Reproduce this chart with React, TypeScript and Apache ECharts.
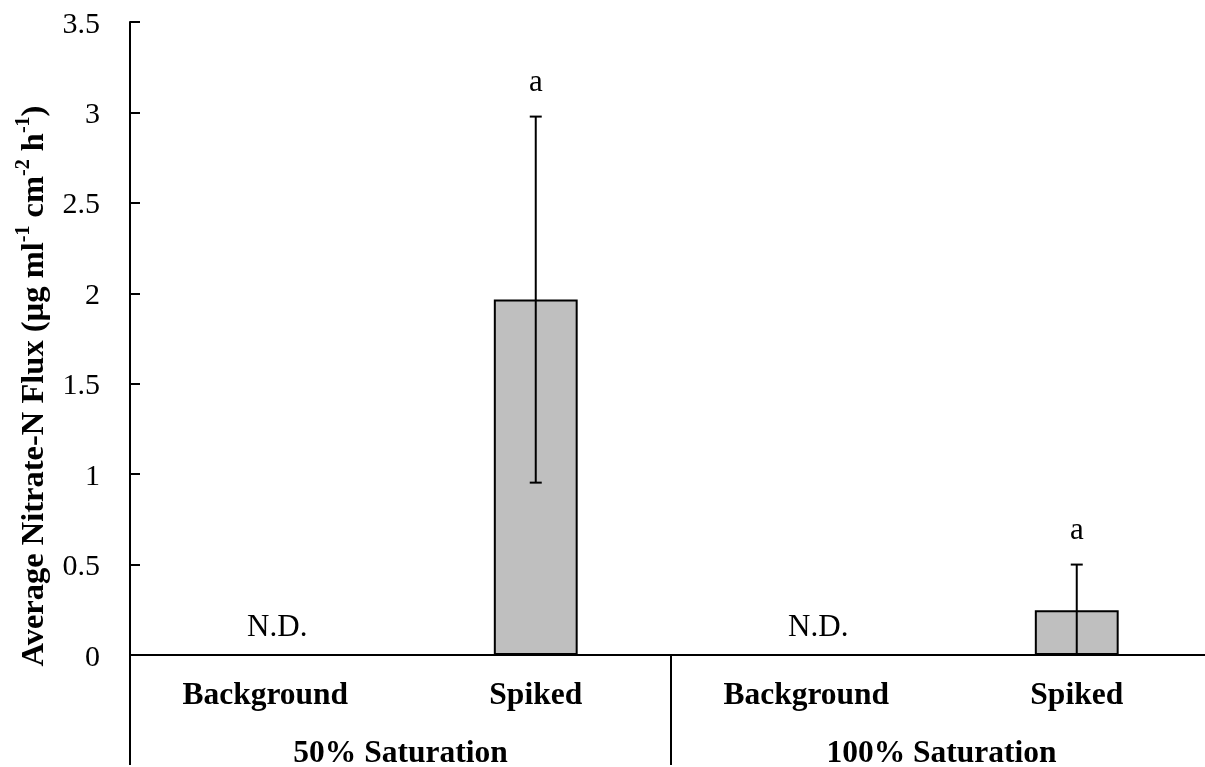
import React, { useEffect, useRef } from "react";
import * as echarts from "echarts";

const categories = ["Background", "Spiked", "Background", "Spiked"];
const groups = ["50% Saturation", "100% Saturation"];
const means: (number | null)[] = [null, 1.965, null, 0.248];
const errors: (number | null)[] = [null, 1.012, null, 0.252];
const ndLabels = ["N.D.", "", "N.D.", ""];
const sigLetters = ["", "a", "", "a"];

const FONT = '"Liberation Serif", "Times New Roman", serif';

export default function App() {
  const ref = useRef<HTMLDivElement>(null);
  useEffect(() => {
    if (!ref.current) return;
    const chart = echarts.init(ref.current, undefined, { renderer: "svg" });
    const errData = means.map((m, i) => [i, m, errors[i] ?? 0, sigLetters[i]]).filter((d) => d[1] != null);
    const ndData = ndLabels.map((l, i) => (l ? [i, 0, l] : null)).filter(Boolean);
    chart.setOption({
      animation: false,
      grid: { left: 130, top: 22, width: 1082, height: 635, containLabel: false },
      xAxis: [
        {
          type: "category",
          data: categories,
          position: "bottom",
          offset: 0,
          axisLine: { show: true, lineStyle: { color: "#000", width: 2 } },
          axisTick: { show: false },
          axisLabel: { color: "#000", fontFamily: FONT, fontWeight: "bold", fontSize: 31.5, margin: 22, interval: 0 },
        },
        {
          type: "category",
          data: groups,
          position: "bottom",
          offset: 0,
          axisLine: { show: false },
          axisTick: { show: true, length: 110, lineStyle: { color: "#000", width: 2 } },
          axisLabel: {
            color: "#000",
            fontFamily: FONT,
            fontWeight: "bold",
            fontSize: 31.5,
            lineHeight: 24,
            margin: 84,
            interval: 0,
          },
        },
      ],
      yAxis: {
        type: "value",
        min: 0,
        max: 3.5,
        interval: 0.5,
        axisLine: { show: true, lineStyle: { color: "#000", width: 2 } },
        axisTick: { show: true, inside: true, length: 10, lineStyle: { color: "#000", width: 2 } },
        axisLabel: { color: "#000", fontFamily: FONT, fontSize: 30, margin: 30 },
        splitLine: { show: false },
      },
      graphic: [
        {
          type: "text",
          x: 30,
          y: 386,
          rotation: Math.PI / 2,
          style: {
            text: "{b|Average Nitrate-N Flux (µg ml}{s|-1}{b| cm}{s|-2}{b| h}{s|-1}{b|)}",
            align: "center",
            verticalAlign: "middle",
            fill: "#000",
            rich: {
              b: { fontFamily: FONT, fontWeight: "bold", fontSize: 32.5, fill: "#000", lineHeight: 36, verticalAlign: "bottom" },
              s: { fontFamily: FONT, fontWeight: "bold", fontSize: 20, fill: "#000", lineHeight: 36, verticalAlign: "top" },
            },
          },
        },
      ],
      series: [
        {
          type: "bar",
          xAxisIndex: 0,
          data: means,
          barWidth: "31%",
          itemStyle: { color: "#bfbfbf", borderColor: "#000", borderWidth: 2 },
          z: 2,
        },
        {
          type: "scatter",
          xAxisIndex: 0,
          data: ndData,
          symbolSize: 0,
          itemStyle: { opacity: 1 },
          label: {
            show: true,
            position: "top",
            distance: 14,
            offset: [12, 0],
            formatter: (p: any) => p.value[2],
            color: "#000",
            opacity: 1,
            fontFamily: FONT,
            fontSize: 31,
          },
          z: 3,
        },
        {
          type: "custom",
          xAxisIndex: 0,
          data: errData,
          encode: { x: 0, y: 1 },
          z: 4,
          renderItem: (params: any, api: any) => {
            const i = api.value(0);
            const m = api.value(1);
            const e = api.value(2);
            const letter = errData[params.dataIndex][3] as string;
            const top = api.coord([i, m + e]);
            const bot = api.coord([i, Math.max(0, m - e)]);
            const cap = 6;
            const ls = { stroke: "#000", lineWidth: 2 };
            return {
              type: "group",
              children: [
                { type: "line", shape: { x1: top[0], y1: top[1], x2: bot[0], y2: bot[1] }, style: ls },
                { type: "line", shape: { x1: top[0] - cap, y1: top[1], x2: top[0] + cap, y2: top[1] }, style: ls },
                { type: "line", shape: { x1: bot[0] - cap, y1: bot[1], x2: bot[0] + cap, y2: bot[1] }, style: ls },
                {
                  type: "text",
                  x: top[0],
                  y: top[1] - 36,
                  style: {
                    text: letter,
                    align: "center",
                    verticalAlign: "middle",
                    fill: "#000",
                    fontFamily: FONT,
                    fontSize: 31,
                  },
                },
              ],
            };
          },
        },
      ],
    });
    return () => chart.dispose();
  }, []);
  return (
    <div style={{ position: "fixed", left: 0, top: 0, width: 1205, height: 767, overflow: "hidden" }}>
      <div ref={ref} style={{ width: 1220, height: 767 }} />
    </div>
  );
}
